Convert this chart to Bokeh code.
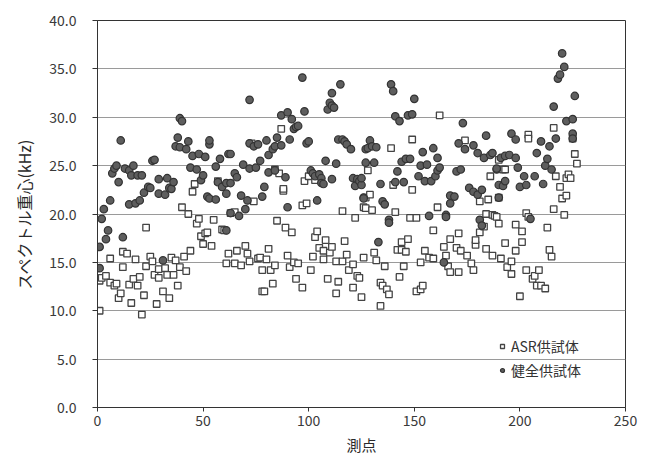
from bokeh.plotting import figure
from bokeh.models import Range1d, FixedTicker, Legend, LegendItem
from bokeh.embed import file_html
from bokeh.resources import INLINE

# ASR供試体 (squares): measurement point, spectral centroid (kHz)
asr_x = [1, 1, 2, 4, 6, 6, 8, 9, 10, 11, 12, 12, 14, 15, 16, 17, 18, 19, 20, 21, 22, 23, 23, 25, 26, 27, 28, 29, 29, 31,
         32, 33, 34, 35, 36, 37, 38, 39, 40, 41, 42, 43, 44, 45, 46, 47, 48, 49, 50, 51, 52, 54, 55, 57, 59, 60, 61, 62, 63, 65,
         65, 66, 68, 70, 71, 72, 73, 74, 76, 77, 78, 78, 79, 80, 81, 82, 83, 84, 84, 85, 86, 87, 88, 88, 89, 90, 91, 92, 93, 94,
         95, 97, 97, 98, 99, 100, 101, 102, 103, 103, 104, 105, 107, 107, 108, 109, 110, 111, 113, 113, 114, 116, 116, 117, 118, 119, 121, 121, 122, 123,
         124, 125, 126, 126, 127, 127, 128, 129, 130, 131, 132, 134, 134, 135, 136, 137, 138, 139, 140, 141, 142, 143, 144, 144, 145, 146, 147, 148, 149, 149,
         151, 151, 153, 153, 154, 155, 157, 159, 159, 161, 162, 164, 165, 166, 167, 167, 170, 171, 171, 172, 174, 175, 177, 178, 179, 179, 181, 181, 183, 184,
         184, 185, 186, 187, 187, 188, 189, 190, 190, 190, 191, 192, 193, 193, 194, 196, 196, 198, 198, 200, 201, 201, 203, 203, 204, 204, 204, 206, 207, 208,
         209, 210, 212, 213, 214, 215, 216, 216, 217, 219, 220, 221, 222, 222, 223, 224, 225, 226, 227]
asr_y = [10.0, 13.1, 13.4, 13.6, 15.4, 12.9, 12.6, 12.8, 11.3, 11.8, 14.5, 16.1, 15.9, 12.7, 10.8, 13.3, 15.3, 12.6, 13.5, 9.6, 11.6, 14.6, 18.6, 15.6, 15.1, 13.7, 10.7, 13.4, 14.3, 12.0,
         14.4, 13.7, 11.3, 15.5, 13.7, 15.2, 12.6, 14.5, 20.7, 15.6, 14.1, 20.0, 16.2, 22.3, 23.1, 19.0, 19.5, 17.7, 16.9, 18.0, 18.1, 16.7, 19.4, 23.4, 18.4, 18.3, 14.9, 15.9, 20.1, 20.2,
         14.9, 16.2, 14.7, 16.7, 15.9, 15.1, 27.3, 21.3, 15.4, 15.5, 14.2, 12.0, 12.0, 15.3, 16.4, 14.2, 12.8, 14.7, 24.6, 19.3, 24.2, 28.8, 22.4, 22.6, 18.6, 15.7, 14.5, 18.1, 15.0, 13.3,
         14.9, 12.4, 20.9, 23.4, 21.1, 23.9, 14.2, 15.6, 23.5, 17.6, 18.2, 16.5, 15.3, 16.2, 17.3, 13.3, 16.0, 16.6, 15.1, 11.8, 13.0, 15.1, 20.3, 17.2, 15.8, 14.2, 14.8, 12.4, 19.6, 13.6,
         13.4, 11.4, 15.5, 20.7, 20.6, 21.7, 24.5, 22.0, 20.4, 16.0, 15.2, 12.9, 10.5, 12.6, 14.6, 12.2, 11.7, 26.8, 23.0, 20.2, 16.3, 13.5, 17.1, 16.3, 14.6, 16.1, 17.4, 19.6, 27.7, 22.5,
         19.6, 12.0, 12.2, 15.0, 12.6, 16.2, 15.5, 15.4, 18.3, 20.7, 30.2, 16.6, 15.7, 14.6, 14.0, 17.4, 16.5, 14.0, 18.0, 16.2, 27.6, 15.7, 14.9, 14.2, 16.8, 17.3, 18.1, 21.3, 18.7, 16.4,
         20.0, 21.5, 23.9, 19.9, 15.7, 19.8, 19.7, 19.0, 25.6, 21.7, 15.4, 24.6, 24.6, 17.0, 14.5, 15.1, 13.8, 16.2, 18.9, 11.5, 17.1, 18.2, 14.2, 20.1, 19.7, 28.2, 27.8, 13.3, 13.6, 12.6,
         14.2, 12.6, 12.3, 18.6, 16.3, 15.6, 20.5, 28.9, 23.9, 22.8, 21.6, 19.9, 21.9, 23.7, 24.1, 23.7, 27.8, 26.2, 25.2]

# 健全供試体 (circles)
sound_x = [1, 1, 2, 3, 4, 5, 6, 7, 8, 9, 10, 11, 12, 13, 15, 15, 16, 17, 18, 19, 20, 21, 22, 24, 25, 26, 27, 29, 29, 31,
           32, 33, 34, 35, 36, 37, 38, 39, 39, 40, 42, 43, 44, 45, 47, 48, 49, 50, 51, 52, 53, 53, 53, 56, 56, 57, 58, 59, 61, 61,
           61, 62, 63, 63, 63, 65, 66, 67, 68, 69, 70, 71, 72, 72, 72, 74, 75, 76, 77, 78, 79, 80, 81, 81, 83, 84, 84, 85, 87, 87,
           89, 90, 90, 91, 92, 93, 94, 95, 97, 98, 99, 100, 101, 102, 103, 104, 105, 106, 106, 107, 108, 109, 110, 111, 111, 111, 112, 113, 114, 115,
           116, 117, 118, 120, 121, 122, 123, 124, 125, 125, 126, 126, 127, 127, 128, 129, 130, 131, 132, 133, 134, 135, 136, 138, 138, 139, 140, 141, 141, 142,
           143, 144, 145, 146, 147, 148, 149, 150, 152, 153, 154, 155, 156, 157, 158, 159, 160, 161, 161, 162, 164, 165, 165, 167, 167, 169, 170, 171, 172, 173,
           174, 176, 178, 178, 180, 180, 181, 182, 182, 183, 184, 186, 187, 189, 189, 190, 190, 191, 192, 193, 193, 195, 196, 198, 198, 199, 200, 202, 203, 205,
           207, 208, 210, 211, 212, 213, 214, 215, 216, 217, 218, 219, 220, 221, 222, 225, 225, 225, 226]
sound_y = [14.4, 16.6, 19.5, 20.5, 17.4, 18.3, 21.4, 24.2, 24.7, 25.0, 23.3, 27.6, 17.6, 24.7, 24.5, 21.0, 24.0, 25.0, 21.1, 24.0, 21.4, 24.0, 22.2, 22.8, 22.7, 25.5, 25.6, 23.6, 22.1, 15.2,
           22.0, 23.7, 22.7, 22.6, 23.3, 27.0, 27.9, 29.9, 26.9, 29.6, 26.7, 27.5, 24.8, 26.0, 24.6, 26.2, 23.5, 24.0, 25.9, 21.8, 27.2, 27.6, 21.6, 24.9, 21.5, 23.3, 25.7, 22.8, 22.1, 23.2,
           18.3, 26.2, 20.1, 23.2, 26.2, 24.2, 23.8, 19.8, 21.9, 25.1, 20.5, 21.4, 24.7, 31.8, 27.3, 27.0, 24.8, 27.2, 25.5, 21.8, 22.8, 27.6, 24.3, 26.1, 26.7, 27.0, 24.5, 27.9, 30.2, 27.1,
           23.8, 30.5, 20.7, 27.7, 29.8, 28.8, 29.0, 29.1, 34.1, 30.6, 27.3, 27.5, 24.5, 24.2, 23.9, 21.4, 24.1, 23.7, 23.2, 23.1, 25.5, 30.8, 31.5, 32.5, 31.2, 23.6, 31.0, 25.2, 27.7, 33.4,
           27.7, 27.5, 27.2, 26.7, 23.7, 22.9, 23.6, 23.4, 23.0, 23.7, 21.7, 21.6, 26.7, 25.3, 26.8, 27.6, 27.0, 25.3, 26.9, 17.1, 23.1, 21.3, 21.0, 19.4, 19.1, 33.4, 32.7, 30.1, 23.3, 24.4,
           29.6, 25.4, 23.3, 25.7, 30.2, 25.7, 30.3, 31.9, 23.9, 25.0, 26.4, 23.4, 25.1, 19.8, 23.4, 26.8, 23.9, 25.8, 24.5, 24.8, 15.0, 19.9, 19.7, 21.9, 21.1, 21.8, 24.4, 27.3, 24.6, 29.4,
           26.7, 22.7, 27.1, 22.3, 26.3, 22.0, 19.4, 18.8, 22.5, 25.8, 28.1, 26.1, 26.3, 24.6, 24.7, 23.0, 21.7, 25.8, 22.9, 26.0, 23.4, 26.1, 28.3, 27.7, 25.8, 24.8, 22.8, 23.9, 23.0, 19.5,
           23.9, 26.3, 27.5, 23.1, 25.0, 25.7, 27.0, 24.6, 31.1, 27.8, 34.0, 34.4, 36.6, 35.2, 29.6, 28.3, 27.8, 29.8, 32.2]

x_ticks = [0, 50, 100, 150, 200, 250]
y_ticks = [0, 5, 10, 15, 20, 25, 30, 35, 40]
y_tick_labels = {t: f"{t:.1f}" for t in y_ticks}
x_title = "測点"
y_title = "スペクトル重心(kHz)"

FONT = "Noto Sans CJK JP"

p = figure(width=638, height=457, output_backend="svg", toolbar_location=None,
           x_range=Range1d(0, 250), y_range=Range1d(0, 40),
           min_border_left=97, min_border_right=13, min_border_top=20, min_border_bottom=48)

p.background_fill_color = "white"
p.border_fill_color = "white"
p.outline_line_color = "#333333"
p.outline_line_width = 1

p.xgrid.grid_line_color = None
p.ygrid.grid_line_color = "#9a9a9a"
p.ygrid.grid_line_width = 1

p.xaxis.ticker = FixedTicker(ticks=x_ticks)
p.yaxis.ticker = FixedTicker(ticks=y_ticks)
p.yaxis.major_label_overrides = y_tick_labels
p.xaxis.minor_tick_line_color = None
p.yaxis.minor_tick_line_color = None

for ax in (p.xaxis[0], p.yaxis[0]):
    ax.axis_line_color = "#333333"
    ax.major_tick_line_color = "#333333"
    ax.major_tick_in = 0
    ax.major_label_text_font = FONT
    ax.major_label_text_font_size = "14px"
    ax.major_label_text_color = "#3a3a3a"
    ax.axis_label_text_font = FONT
    ax.axis_label_text_font_style = "normal"
    ax.axis_label_text_color = "#2a2a2a"

p.xaxis.major_tick_out = 4
p.xaxis.major_label_standoff = 3
p.xaxis.axis_label_standoff = 5
p.xaxis.axis_label_text_font_size = "15px"
p.xaxis.axis_label = x_title
p.yaxis.major_tick_out = 5
p.yaxis.major_label_standoff = 16
p.yaxis.axis_label_standoff = 10
p.yaxis.axis_label_text_font_size = "16px"
p.yaxis.axis_label = y_title

r_asr = p.scatter(asr_x, asr_y, marker="square", size=6.5, fill_color="white",
                  line_color="#444444", line_width=1.3)
r_sound = p.scatter(sound_x, sound_y, marker="circle", size=7.5, fill_color="#5e5e5e",
                    line_color="#333333", line_width=1.2)

legend = Legend(items=[LegendItem(label="ASR供試体", renderers=[r_asr]),
                       LegendItem(label="健全供試体", renderers=[r_sound])],
                location=(400, 27), border_line_color=None, background_fill_alpha=0,
                padding=0, margin=0, spacing=4, glyph_width=10, glyph_height=18,
                label_height=18, label_standoff=4,
                label_text_font=FONT, label_text_font_size="14px", label_text_color="#333333")
p.add_layout(legend)

open("out.html", "w").write(file_html(p, INLINE))
